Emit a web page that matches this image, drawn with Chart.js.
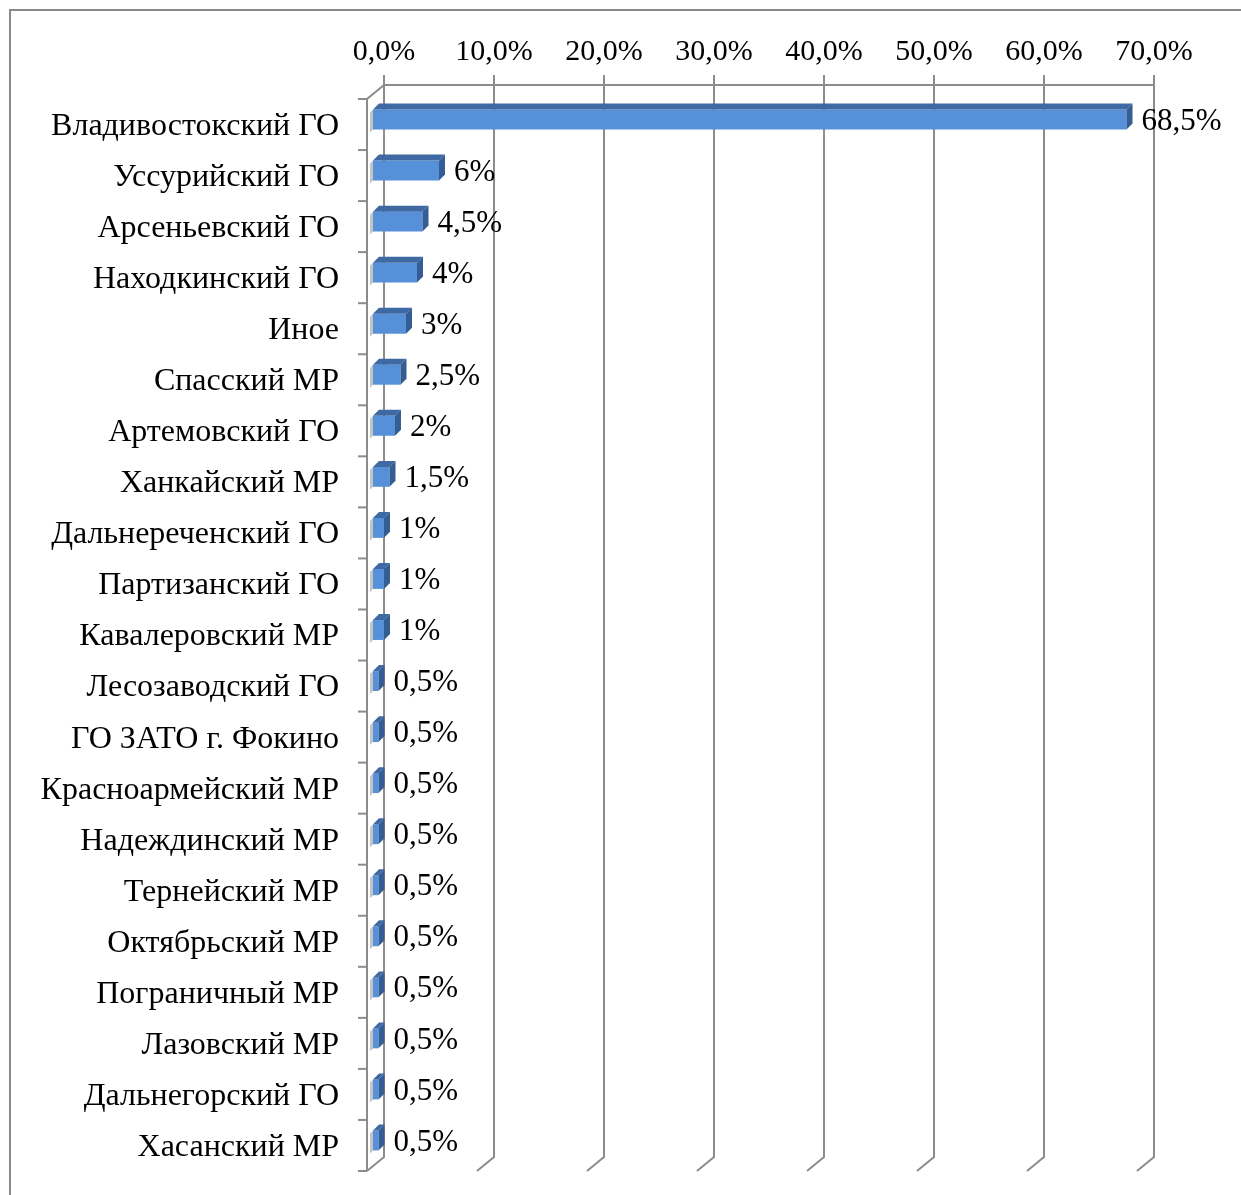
<!DOCTYPE html>
<html>
<head>
<meta charset="utf-8">
<script src="https://cdn.jsdelivr.net/npm/chart.js@4.4.0/dist/chart.umd.min.js"></script>
<style>
  html, body { margin: 0; padding: 0; background: #fff; }
  #wrap { width: 1241px; height: 1195px; position: relative; }
</style>
</head>
<body>
<div id="wrap"><canvas id="chart" width="1241" height="1195"></canvas></div>
<script>
// данные диаграммы
const categories = [
   'Владивостокский ГО', 'Уссурийский ГО', 'Арсеньевский ГО', 'Находкинский ГО', 'Иное',
   'Спасский МР', 'Артемовский ГО', 'Ханкайский МР', 'Дальнереченский ГО', 'Партизанский ГО',
   'Кавалеровский МР', 'Лесозаводский ГО', 'ГО ЗАТО г. Фокино', 'Красноармейский МР', 'Надеждинский МР',
   'Тернейский МР', 'Октябрьский МР', 'Пограничный МР', 'Лазовский МР', 'Дальнегорский ГО', 'Хасанский МР'
];
const values = [68.5, 6, 4.5, 4, 3, 2.5, 2, 1.5, 1, 1, 1, 0.5, 0.5, 0.5, 0.5, 0.5, 0.5, 0.5, 0.5, 0.5, 0.5];
const axisMin = 0;
const axisMax = 70;
const axisStep = 10;

const FONT = "'Liberation Serif', 'Times New Roman', serif";
const GRID = '#8c8c8c';

// смещения "глубины" 3D
const back = { dx: 11, dy: -9 };
const front = { dx: -6, dy: 5 };

const pct = v => String(v).replace('.', ',') + '%';

const frame3d = {
   id: 'frame3d',
   beforeDraw(chart) {
      const ctx = chart.ctx;
      ctx.save();
      ctx.strokeStyle = '#8a8a8a';
      ctx.lineWidth = 2;
      ctx.beginPath();
      ctx.moveTo(10, 1195);
      ctx.lineTo(10, 10);
      ctx.lineTo(1241, 10);
      ctx.stroke();
      ctx.restore();
   },
   beforeDatasetsDraw(chart) {
      const ctx = chart.ctx;
      const xs = chart.scales.x;
      const area = chart.chartArea;
      const topB = area.top + back.dy;
      const botB = area.bottom + back.dy;
      const botF = area.bottom + front.dy;
      ctx.save();
      ctx.strokeStyle = GRID;
      ctx.lineWidth = 2;
      // вертикальные линии сетки с наклоном внизу
      for (let v = axisMin; v <= axisMax; v += axisStep) {
         const xb = xs.getPixelForValue(v) + back.dx;
         ctx.beginPath();
         ctx.moveTo(xb, topB - 10);
         ctx.lineTo(xb, botB);
         ctx.lineTo(xb + front.dx - back.dx, botF);
         ctx.stroke();
      }
      // верхняя линия задней стенки
      const x0b = xs.getPixelForValue(axisMin) + back.dx;
      const x0f = xs.getPixelForValue(axisMin) + front.dx;
      ctx.beginPath();
      ctx.moveTo(x0b, topB);
      ctx.lineTo(xs.getPixelForValue(axisMax) + back.dx, topB);
      ctx.stroke();
      // левая стенка
      ctx.beginPath();
      ctx.moveTo(x0b, topB);
      ctx.lineTo(x0f, area.top + front.dy);
      ctx.lineTo(x0f, botF);
      ctx.stroke();
      // деления категорий
      const band = (area.bottom - area.top) / categories.length;
      for (let i = 0; i <= categories.length; i++) {
         const y = area.top + front.dy + band * i;
         ctx.beginPath();
         ctx.moveTo(x0f - 9, y);
         ctx.lineTo(x0f, y);
         ctx.stroke();
      }
      ctx.restore();
   },
   afterDatasetsDraw(chart) {
      const ctx = chart.ctx;
      const meta = chart.getDatasetMeta(0);
      const d = 6, dh = 6;
      ctx.save();
      meta.data.forEach((bar, i) => {
         const p = bar.getProps(['x', 'y', 'base', 'height'], true);
         const left = p.base, right = p.x;
         const top = p.y - p.height / 2, bottom = p.y + p.height / 2;
         // тень слева
         ctx.fillStyle = '#c4c4c4';
         ctx.beginPath();
         ctx.moveTo(left, top);
         ctx.lineTo(left, bottom);
         ctx.lineTo(left - 3, bottom + 3);
         ctx.lineTo(left - 3, top + 3);
         ctx.closePath();
         ctx.fill();
         // верхняя грань
         ctx.fillStyle = '#3f69a3';
         ctx.beginPath();
         ctx.moveTo(left, top);
         ctx.lineTo(left + d, top - dh);
         ctx.lineTo(right + d, top - dh);
         ctx.lineTo(right, top);
         ctx.closePath();
         ctx.fill();
         // боковая грань
         ctx.fillStyle = '#345d94';
         ctx.beginPath();
         ctx.moveTo(right, top);
         ctx.lineTo(right + d, top - dh);
         ctx.lineTo(right + d, bottom - dh);
         ctx.lineTo(right, bottom);
         ctx.closePath();
         ctx.fill();
         // подпись значения
         ctx.fillStyle = '#000';
         ctx.font = '31px ' + FONT;
         ctx.textAlign = 'left';
         ctx.textBaseline = 'middle';
         ctx.fillText(pct(values[i]), right + 15, p.y + 2);
      });
      ctx.restore();
   }
};

const ctx = document.getElementById('chart').getContext('2d');
new Chart(ctx, {
   type: 'bar',
   data: {
      labels: categories,
      datasets: [{
         data: values,
         backgroundColor: '#5690d8',
         borderWidth: 0,
         barPercentage: 0.39,
         categoryPercentage: 1
      }]
   },
   options: {
      indexAxis: 'y',
      responsive: false,
      animation: false,
      layout: { padding: { top: 0, left: 0, right: 98, bottom: 29 } },
      plugins: {
         legend: { display: false },
         tooltip: { enabled: false }
      },
      scales: {
         x: {
            position: 'top',
            min: axisMin,
            max: axisMax,
            grid: { display: false, drawTicks: false },
            border: { display: false },
            ticks: {
               stepSize: axisStep,
               labelOffset: back.dx,
               padding: 24,
               color: '#000',
               font: { family: FONT, size: 30 },
               callback: v => v.toFixed(1).replace('.', ',') + '%'
            },
            afterFit: s => { s.height = 94; s.paddingLeft = 0; s.paddingRight = 0; }
         },
         y: {
            grid: { display: false, drawTicks: false },
            border: { display: false },
            ticks: {
               padding: 34,
               labelOffset: 7,
               color: '#000',
               font: { family: FONT, size: 32 }
            },
            afterFit: s => { s.width = 373; s.paddingTop = 0; s.paddingBottom = 0; }
         }
      }
   },
   plugins: [frame3d]
});
</script>
</body>
</html>
